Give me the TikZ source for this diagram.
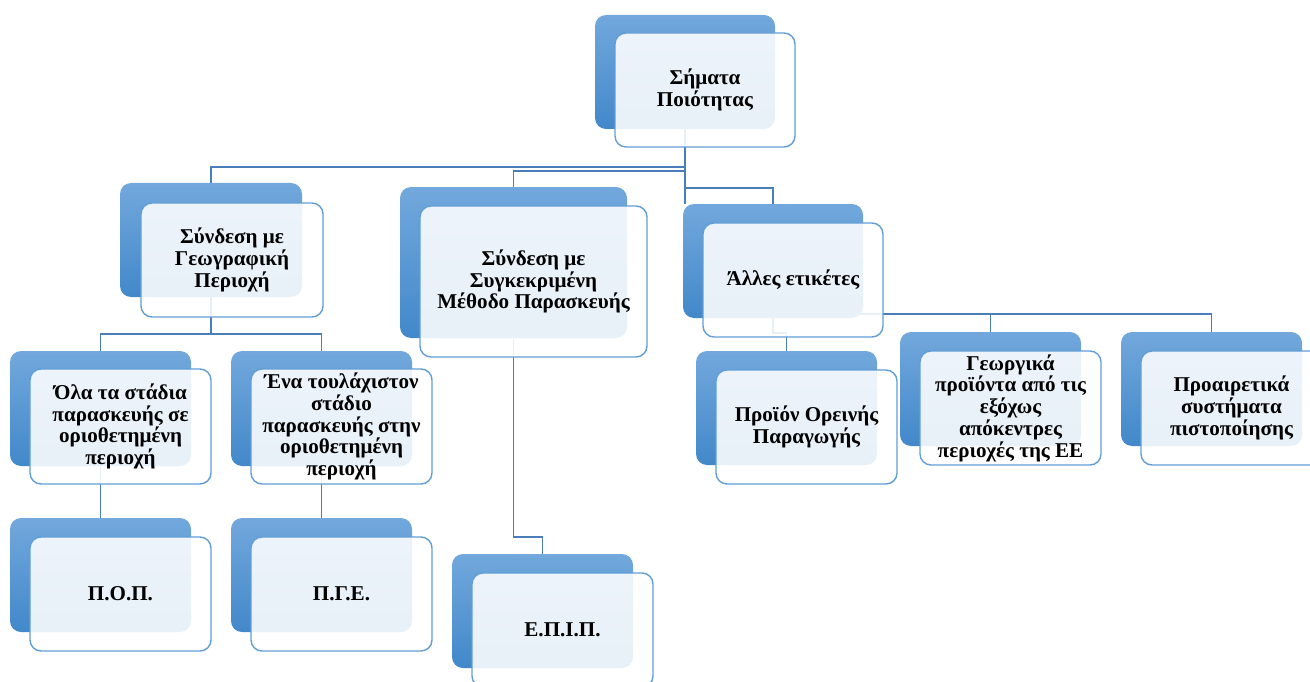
\documentclass[tikz,border=0pt]{standalone}
\usepackage{fontspec}
\setmainfont{Liberation Serif}
\usetikzlibrary{calc}
\pgfdeclarelayer{background}
\pgfsetlayers{background,main}
\definecolor{conncol}{RGB}{74,126,187}
\definecolor{backtop}{RGB}{114,168,220}
\definecolor{backbot}{RGB}{66,136,202}
\definecolor{frontline}{RGB}{98,157,214}
\tikzset{
  backbox/.style={rectangle, rounded corners=0.22cm, top color=backtop, bottom color=backbot, draw=none, inner sep=0pt, outer sep=0pt, anchor=north west},
  frontbox/.style={rectangle, rounded corners=0.22cm, fill=white, fill opacity=0.88, draw=frontline, draw opacity=1, line width=0.8pt, inner sep=0pt, outer sep=0pt, anchor=north west},
  txt/.style={align=center, text=black, font=\fontsize{12pt}{12.4pt}\selectfont\bfseries, inner sep=0pt},
  conn/.style={draw=conncol, line width=0.8pt}
}
% name, back x, back y, front x, front y, w, h, text
\newcommand\qbox[8]{%
  \node[backbox, minimum width=#6*0.02cm, minimum height=#7*0.02cm] (#1B) at (#2,#3) {};
  \node[frontbox, minimum width=#6*0.02cm, minimum height=#7*0.02cm] (#1F) at (#4,#5) {};
  \node[txt] (#1) at (#1F.center) {#8};
}
\begin{document}
\begin{tikzpicture}[x=0.02cm,y=-0.02cm]
\useasboundingbox (0,0) rectangle (1310,682);
\clip (0,0) rectangle (1310,682);
\qbox{top}{595}{15}{615}{33}{180}{114}{Σήματα\\Ποιότητας}
\qbox{geo}{120}{183}{141}{203}{182}{114}{Σύνδεση με\\Γεωγραφική\\Περιοχή}
\qbox{mid}{400}{187}{420}{206}{227}{151}{Σύνδεση με\\Συγκεκριμένη\\Μέθοδο Παρασκευής}
\qbox{al}{683}{204}{703}{223}{180}{114}{Άλλες ετικέτες}
\qbox{ola}{10}{351}{30}{369}{181}{115}{Όλα τα στάδια\\παρασκευής σε\\οριοθετημένη\\περιοχή}
\qbox{ena}{231}{351}{251}{369}{181}{115}{Ένα τουλάχιστον\\στάδιο\\παρασκευής στην\\οριοθετημένη\\περιοχή}
\qbox{pop}{10}{518}{30}{537}{181}{114}{Π.Ο.Π.}
\qbox{pge}{231}{518}{251}{537}{181}{114}{Π.Γ.Ε.}
\qbox{ep}{452}{554}{472}{573}{181}{114}{Ε.Π.Ι.Π.}
\qbox{pro}{696}{351}{716}{370}{181}{114}{Προϊόν Ορεινής\\Παραγωγής}
\qbox{geor}{900}{332}{920}{351}{181}{114}{Γεωργικά\\προϊόντα από τις\\εξόχως\\απόκεντρες\\περιοχές της ΕΕ}
\qbox{proair}{1121}{332}{1141}{351}{181}{114}{Προαιρετικά\\συστήματα\\πιστοποίησης}
\coordinate (h167) at (0,167);
\coordinate (h171) at (0,171);
\coordinate (h188) at (0,188);
\coordinate (h334) at (0,334);
\coordinate (h537) at (0,537);
\coordinate (h314) at (0,314);
\coordinate (h333) at (0,333);
\begin{pgfonlayer}{background}
\draw[conn] (topB.south) -- (topB.south |- alB.north);
\draw[conn] (topB.south |- h167) -| (geoB.north);
\draw[conn] (topB.south |- h171) -| (midB.north);
\draw[conn] (topB.south |- h188) -| (alB.north);
\draw[conn] (geoB.south) -- (geoB.south |- h334);
\draw[conn] (olaB.north) |- (h334 -| enaB.north) -- (enaB.north);
\draw[conn] (olaB.south) -- (popB.north);
\draw[conn] (enaB.south) -- (pgeB.north);
\draw[conn] (midB.south) -- (midB.south |- h537) -| (epB.north);
\draw[conn] (alB.south |- h314) -| (proairB.north);
\draw[conn] (georB.north) -- (georB.north |- h314);
\draw[conn] (alB.south) -- (alB.south |- h333) -| (proB.north);
\end{pgfonlayer}
\end{tikzpicture}
\end{document}
